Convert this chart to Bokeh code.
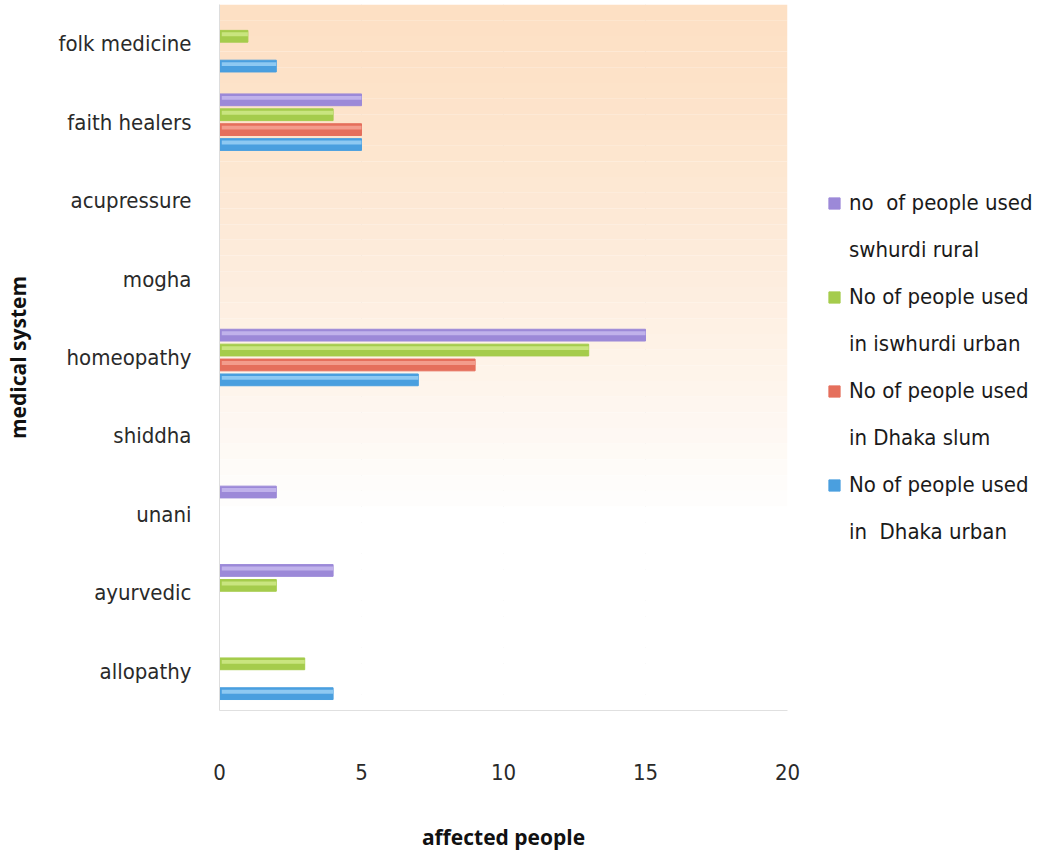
from bokeh.plotting import figure
from bokeh.models import FactorRange, Legend, LegendItem, BoxAnnotation, Range1d, FixedTicker
from bokeh.transform import dodge
from bokeh.embed import file_html
from bokeh.resources import INLINE
import numpy as np

# ---- data (bottom to top) ----
systems = ["allopathy", "ayurvedic", "unani", "shiddha", "homeopathy",
           "mogha", "acupressure", "faith healers", "folk medicine"]
dhaka_urban = [4, 0, 0, 0, 7, 0, 0, 5, 2]
dhaka_slum = [0, 0, 0, 0, 9, 0, 0, 5, 0]
iswhurdi_urban = [3, 2, 0, 0, 13, 0, 0, 4, 1]
swhurdi_rural = [0, 4, 2, 0, 15, 0, 0, 5, 0]

series_line1 = ["no  of people used", "No of people used",
                "No of people used", "No of people used"]
series_line2 = ["swhurdi rural", "in iswhurdi urban",
                "in Dhaka slum", "in  Dhaka urban"]
series_values = [swhurdi_rural, iswhurdi_urban, dhaka_slum, dhaka_urban]
series_colors = ["#9c89d8", "#a5cc4c", "#e56f5c", "#4a9fdf"]
series_light = ["#c9bdf0", "#d2eb8c", "#f6a898", "#9fd3f6"]
offsets = [0.285, 0.095, -0.095, -0.285]
x_ticks = [0, 5, 10, 15, 20]

FONT = "'DejaVu Sans Condensed', Lato"

p = figure(frame_width=568, frame_height=706, y_range=FactorRange(factors=systems),
           x_range=Range1d(0, 20), output_backend="svg", toolbar_location=None,
           min_border_left=212, min_border_right=10, min_border_top=4,
           min_border_bottom=0)
p.outline_line_color = None
p.background_fill_color = "white"

# gradient background (peach at top fading to white)
n = 45
edges = np.linspace(9, 0, n + 1)
c0 = np.array([253, 224, 196])
c1 = np.array([255, 255, 255])
for i in range(n):
    t = min(1.0, (9 - (edges[i] + edges[i + 1]) / 2) / 6.5)
    t = t ** 1.3
    c = (c0 * (1 - t) + c1 * t).astype(int)
    p.add_layout(BoxAnnotation(top=edges[i], bottom=edges[i + 1],
                               fill_color="#%02x%02x%02x" % tuple(c), fill_alpha=1.0,
                               line_color=None, level="underlay"))

items = []
for l1, l2, vals, col, light, off in zip(series_line1, series_line2, series_values,
                                          series_colors, series_light, offsets):
    ys = [s for s, v in zip(systems, vals) if v > 0]
    vs = [v for v in vals if v > 0]
    src = dict(y=ys, v=vs)
    r = p.hbar(y=dodge("y", off, range=p.y_range), right="v", left=0, height=0.15,
               source=src, fill_color=col, line_color=col, line_width=1)
    p.hbar(y=dodge("y", off + 0.025, range=p.y_range), right="v", left=0.08, height=0.05,
           source=src, fill_color=light, line_color=None, fill_alpha=0.8)
    blank = p.hbar(y=[], right=[], height=0.1, fill_alpha=0, line_alpha=0)
    items.append(LegendItem(label=l1, renderers=[r]))
    items.append(LegendItem(label=l2, renderers=[blank]))

p.xaxis.ticker = FixedTicker(ticks=x_ticks)
p.xgrid.ticker = FixedTicker(ticks=x_ticks)
p.xgrid.grid_line_color = "#e4e4e4"
p.ygrid.grid_line_color = None

for ax in (p.xaxis[0], p.yaxis[0]):
    ax.axis_line_color = "#dddddd"
    ax.major_tick_line_color = None
    ax.minor_tick_line_color = None
    ax.major_label_text_font = FONT
    ax.major_label_text_font_size = "22px"
    ax.major_label_text_color = "#2a2a2a"
    ax.axis_label_text_font = "Open Sans"
    ax.axis_label_text_font_style = "bold"
    ax.axis_label_text_font_size = "21px"
    ax.axis_label_text_color = "#111111"

p.xaxis.axis_line_color = "#e0e0e0"
p.xaxis.major_label_standoff = 47
p.xaxis.axis_label = "affected people"
p.xaxis.axis_label_standoff = 40
p.yaxis.major_label_standoff = 22
p.yaxis.axis_label = "medical system"
p.yaxis.axis_label_standoff = 24

legend = Legend(items=items, location=(40, 155), orientation="vertical",
                label_text_font=FONT, label_text_font_size="22px",
                label_text_color="#1a1a1a", label_height=47,
                glyph_width=14, glyph_height=14, spacing=0, padding=0,
                margin=0, border_line_color=None, background_fill_alpha=0,
                label_standoff=8)
p.add_layout(legend, "right")

open("out.html", "w").write(file_html(p, INLINE))
